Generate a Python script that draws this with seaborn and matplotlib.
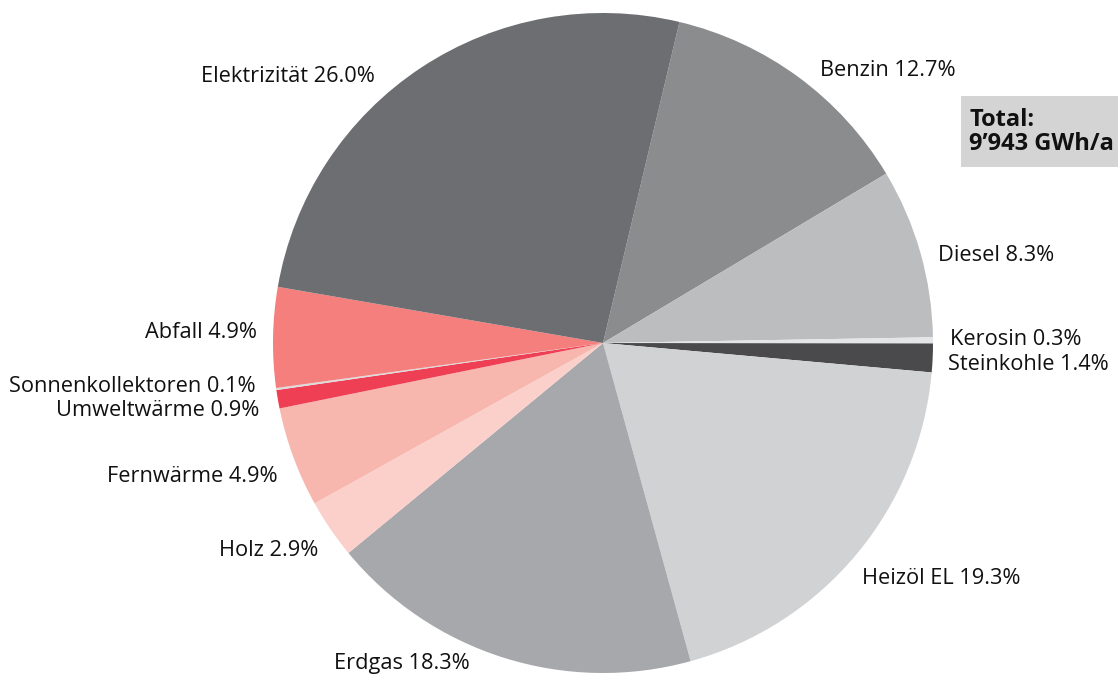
import matplotlib
matplotlib.use("Agg")
import matplotlib.pyplot as plt
from matplotlib.patches import Rectangle
import seaborn as sns

# ---- data ----
categories = ["Benzin", "Diesel", "Kerosin", "Steinkohle", "Heizöl EL", "Erdgas",
              "Holz", "Fernwärme", "Umweltwärme", "Sonnenkollektoren", "Abfall", "Elektrizität"]
shares = [12.7, 8.3, 0.3, 1.4, 19.3, 18.3, 2.9, 4.9, 0.9, 0.1, 4.9, 26.0]
colors = ["#8b8c8e", "#bcbdbf", "#e4e5e6", "#4a4a4c", "#d1d2d4", "#a7a8ab",
          "#fbd0cb", "#f8b7ae", "#ee3f55", "#dcdcdc", "#f47f7c", "#6d6e71"]
total_text = "Total:\n9’943 GWh/a"

# ---- layout of labels (pixel anchors, alignment) ----
label_layout = {
    "Benzin": (820, 70, "left"),
    "Diesel": (938, 256, "left"),
    "Kerosin": (950, 340, "left"),
    "Steinkohle": (948, 365, "left"),
    "Heizöl EL": (862, 578, "left"),
    "Erdgas": (470, 663, "right"),
    "Holz": (318, 551, "right"),
    "Fernwärme": (278, 476, "right"),
    "Umweltwärme": (259, 410, "right"),
    "Sonnenkollektoren": (256, 386, "right"),
    "Abfall": (257, 332, "right"),
    "Elektrizität": (375, 77, "right"),
}

sns.set_theme(style="white")
plt.rcParams["font.family"] = ["Open Sans", "DejaVu Sans"]

W, H = 1118, 675
fig = plt.figure(figsize=(W / 100, H / 100), dpi=100)
cx, cy, r = 603, 343, 330
ax = fig.add_axes([(cx - r) / W, (H - cy - r) / H, 2 * r / W, 2 * r / H])

ax.pie(shares, colors=sns.color_palette(colors), startangle=90 - 13.4,
       counterclock=False, wedgeprops=dict(linewidth=0))
ax.set_xlim(-1, 1)
ax.set_ylim(-1, 1)
ax.set_aspect("equal")
ax.axis("off")

for cat, val in zip(categories, shares):
    px, py, ha = label_layout[cat]
    fig.text(px / W, 1 - py / H, f"{cat} {val:.1f}%", ha=ha, va="center",
             fontsize=15.7, color="#111111")

# total box
fig.patches.append(Rectangle((961 / W, 1 - 167 / H), (1118 - 961) / W, 71 / H,
                             transform=fig.transFigure, facecolor="#d4d4d4",
                             edgecolor="none", zorder=0))
fig.text(969 / W, 1 - 132 / H, total_text, ha="left", va="center",
         fontsize=17, fontweight="bold", color="#111111", linespacing=1.05)

fig.savefig("out.png", dpi=100)
